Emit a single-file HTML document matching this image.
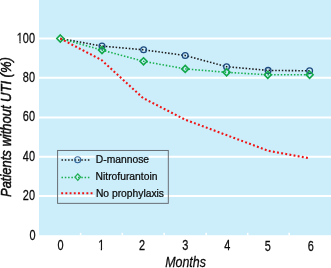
<!DOCTYPE html>
<html><head><meta charset="utf-8">
<style>
html,body{margin:0;padding:0;background:#fff;width:331px;height:268px;overflow:hidden}
svg{display:block;will-change:transform}
text{font-family:"Liberation Sans",sans-serif;fill:#0a0a0a;stroke:#0a0a0a;stroke-width:0.25px}
</style></head><body>
<svg width="331" height="268" viewBox="0 0 331 268">
<!-- plot background -->
<rect x="39" y="0" width="292" height="235.2" fill="#ccedfa"/>
<!-- gridlines -->
<g stroke="#fff" stroke-width="2">
<line x1="39" y1="38.6" x2="331" y2="38.6"/>
<line x1="39" y1="77.85" x2="331" y2="77.85"/>
<line x1="39" y1="117.55" x2="331" y2="117.55"/>
<line x1="39" y1="156.75" x2="331" y2="156.75"/>
<line x1="39" y1="196" x2="331" y2="196"/>
</g>
<!-- legend box -->
<rect x="57.6" y="150.45" width="110.7" height="52.9" fill="none" stroke="#62686e" stroke-width="0.95"/>
<!-- x ticks -->
<g stroke="#fff" stroke-width="1.6">
<line x1="80.6" y1="232.8" x2="80.6" y2="235.2"/>
<line x1="122.3" y1="232.8" x2="122.3" y2="235.2"/>
<line x1="164.2" y1="232.8" x2="164.2" y2="235.2"/>
<line x1="206.2" y1="232.8" x2="206.2" y2="235.2"/>
<line x1="247.7" y1="232.8" x2="247.7" y2="235.2"/>
<line x1="289.2" y1="232.8" x2="289.2" y2="235.2"/>
</g>
<!-- D-mannose -->
<polyline points="60.3,38.5 102,46.1 143.6,49.8 185.2,55.5 226.6,66.7 268.1,70.4 309.6,70.8" fill="none" stroke="#1e1e1e" stroke-width="1.6" stroke-dasharray="1.5 1.8"/>
<g fill="none" stroke="#1d4a7e" stroke-width="1.3">
<circle cx="102" cy="46.1" r="2.9"/>
<circle cx="143.6" cy="49.8" r="2.9"/>
<circle cx="185.2" cy="55.5" r="2.9"/>
<circle cx="226.6" cy="66.7" r="2.9"/>
<circle cx="268.1" cy="70.4" r="2.9"/>
<circle cx="309.6" cy="70.8" r="2.9"/>
</g>
<!-- Nitrofurantoin -->
<polyline points="60.3,38.5 102,50.1 143.5,61.3 185.2,68.9 226.6,72.3 267.8,74.8 309.6,74.8" fill="none" stroke="#17b04e" stroke-width="1.6" stroke-dasharray="1.5 1.8"/>
<g fill="none" stroke="#12a84a" stroke-width="1.6">
<path d="M60.3,35 L63.8,38.5 L60.3,42 L56.8,38.5Z"/>
<path d="M102,46.6 L105.5,50.1 L102,53.6 L98.5,50.1Z"/>
<path d="M143.5,57.8 L147,61.3 L143.5,64.8 L140,61.3Z"/>
<path d="M185.2,65.4 L188.7,68.9 L185.2,72.4 L181.7,68.9Z"/>
<path d="M226.6,68.8 L230.1,72.3 L226.6,75.8 L223.1,72.3Z"/>
<path d="M267.8,71.3 L271.3,74.8 L267.8,78.3 L264.3,74.8Z"/>
<path d="M309.6,71.3 L313.1,74.8 L309.6,78.3 L306.1,74.8Z"/>
</g>
<!-- No prophylaxis -->
<polyline points="60.3,38.5 101.5,60 143,98 185,119.6 226.5,135.1 268,150.7 309.5,158.3" fill="none" stroke="#f01414" stroke-width="2.1" stroke-dasharray="1.9 2.3"/>
<!-- legend entries -->
<line x1="61.5" y1="160" x2="91" y2="160" stroke="#1e1e1e" stroke-width="1.6" stroke-dasharray="1.5 1.8"/>
<circle cx="77.7" cy="159.8" r="3" fill="none" stroke="#35669a" stroke-width="1.05"/>
<line x1="61.5" y1="177.5" x2="91" y2="177.5" stroke="#17b04e" stroke-width="1.6" stroke-dasharray="1.5 1.8"/>
<path d="M77.8,173.9 L80.6,177.1 L77.8,180.3 L75,177.1Z" fill="none" stroke="#22b054" stroke-width="1.25"/>
<line x1="61.2" y1="193.2" x2="93" y2="193.2" stroke="#f01414" stroke-width="2.1" stroke-dasharray="1.9 2.3"/>
<!-- opaque text boxes behind legend labels (hide gridlines) -->
<rect x="95.2" y="153" width="53.6" height="12.5" fill="#ccedfa"/>
<rect x="95.2" y="187" width="68.4" height="12.5" fill="#ccedfa"/>
<g font-size="11.5">
<text transform="translate(95.8,163.2) scale(0.897,1)">D-mannose</text>
<text transform="translate(95.6,179.7) scale(0.897,1)">Nitrofurantoin</text>
<text transform="translate(95.9,197.3) scale(0.897,1)">No prophylaxis</text>
</g>
<!-- y tick labels -->
<g font-size="14" text-anchor="end" style="stroke-width:0.3px">
<text transform="translate(35,42.9) scale(0.78,1)">100</text>
<text transform="translate(35,81.8) scale(0.78,1)">80</text>
<text transform="translate(35,121.2) scale(0.78,1)">60</text>
<text transform="translate(35,161.3) scale(0.78,1)">40</text>
<text transform="translate(35,200) scale(0.78,1)">20</text>
<text transform="translate(35.5,239.8) scale(0.78,1)">0</text>
</g>
<!-- x tick labels -->
<g font-size="14" text-anchor="middle" style="stroke-width:0.3px">
<text transform="translate(60.5,249.8) scale(0.78,1)">0</text>
<text transform="translate(101.2,250) scale(0.78,1)">1</text>
<text transform="translate(142,249.8) scale(0.78,1)">2</text>
<text transform="translate(185.3,249.8) scale(0.78,1)">3</text>
<text transform="translate(227.2,250.3) scale(0.78,1)">4</text>
<text transform="translate(267.8,250.5) scale(0.78,1)">5</text>
<text transform="translate(310.7,250.8) scale(0.78,1)">6</text>
</g>
<!-- hide the foot of Liberation "1" (target font has none) -->
<g fill="#fff">
<rect x="16.3" y="41.1" width="3.15" height="2.9"/>
<rect x="20.6" y="41.1" width="2.5" height="2.9"/>
<rect x="97.5" y="248.2" width="3.3" height="2.9"/>
<rect x="102.0" y="248.2" width="3.2" height="2.9"/>
</g>
<!-- axis titles -->
<text font-size="14.4" font-style="italic" transform="translate(165.2,267) scale(0.864,1)">Months</text>
<text font-size="15.5" font-style="italic" style="stroke-width:0.5px" transform="translate(11.1,197) rotate(-90) scale(0.837,1)">Patients without UTI (%)</text>
</svg>
</body></html>
